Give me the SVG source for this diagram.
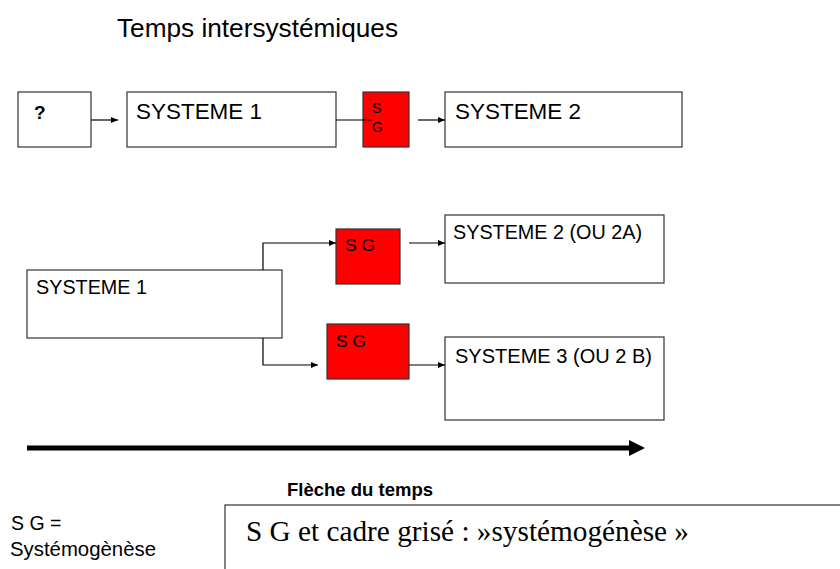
<svg xmlns="http://www.w3.org/2000/svg" width="840" height="569" viewBox="0 0 840 569">
<defs>
<style>
.box{fill:#fff;stroke:#333;stroke-width:1.2}
.sg{fill:#ff0000;stroke:#333;stroke-width:1.2}
.t{font-family:"Liberation Sans",Arial,sans-serif;fill:#000}
.c{fill:none;stroke:#000;stroke-width:1.2}
</style>
<marker id="ah" viewBox="0 0 10 10" refX="10" refY="5" markerWidth="7" markerHeight="6" markerUnits="userSpaceOnUse" orient="auto" preserveAspectRatio="none">
<path d="M0,0 L10,5 L0,10 Z" fill="#000"/>
</marker>
</defs>
<rect width="840" height="569" fill="#fff"/>
<text class="t" x="117" y="37" font-size="26" textLength="281" lengthAdjust="spacingAndGlyphs">Temps intersystémiques</text>

<g id="n-unknown"><rect class="box" x="18" y="92" width="73" height="55"/><text class="t" x="34" y="119" font-size="19" font-weight="bold">?</text></g>
<g id="n-sys1-top"><rect class="box" x="127" y="92" width="209" height="55"/><text class="t" x="136" y="119" font-size="22.5" textLength="126" lengthAdjust="spacingAndGlyphs">SYSTEME 1</text></g>
<g id="n-sg-top"><rect class="sg" x="363" y="92" width="46" height="55"/><text class="t" x="372" y="113" font-size="14">S</text><text class="t" x="372" y="132" font-size="14">G</text></g>
<g id="n-sys2-top"><rect class="box" x="445" y="92" width="237" height="55"/><text class="t" x="455" y="119" font-size="22.5" textLength="126" lengthAdjust="spacingAndGlyphs">SYSTEME 2</text></g>

<g id="n-sys1-mid"><rect class="box" x="27" y="270" width="255" height="68"/><text class="t" x="36" y="294" font-size="20" textLength="111" lengthAdjust="spacingAndGlyphs">SYSTEME 1</text></g>
<g id="n-sg-a"><rect class="sg" x="336" y="229" width="64" height="55"/><text class="t" x="345" y="251" font-size="17" textLength="30" lengthAdjust="spacingAndGlyphs">S G</text></g>
<g id="n-sys2a"><rect class="box" x="445" y="215" width="219" height="68"/><text class="t" x="453" y="239" font-size="20" textLength="189" lengthAdjust="spacingAndGlyphs">SYSTEME 2 (OU 2A)</text></g>
<g id="n-sg-b"><rect class="sg" x="327" y="324" width="82" height="55"/><text class="t" x="336" y="347" font-size="17" textLength="30" lengthAdjust="spacingAndGlyphs">S G</text></g>
<g id="n-sys3"><rect class="box" x="445" y="337" width="219" height="83"/><text class="t" x="455" y="363" font-size="20" textLength="197" lengthAdjust="spacingAndGlyphs">SYSTEME 3 (OU 2 B)</text></g>

<g id="connectors">
<line class="c" x1="91" y1="120" x2="118" y2="120" marker-end="url(#ah)"/>
<line class="c" x1="336" y1="120" x2="372" y2="120"/>
<line class="c" x1="418" y1="120" x2="445" y2="120" marker-end="url(#ah)"/>
<polyline class="c" points="263,270 263,243 336,243" marker-end="url(#ah)"/>
<line class="c" x1="409" y1="243" x2="445" y2="243" marker-end="url(#ah)"/>
<polyline class="c" points="263,338 263,365 318,365" marker-end="url(#ah)"/>
<line class="c" x1="409" y1="365" x2="445" y2="365" marker-end="url(#ah)"/>
</g>

<g id="time-arrow">
<line x1="27" y1="448" x2="630" y2="448" stroke="#000" stroke-width="5"/>
<polygon points="629,440 645,448 629,456" fill="#000"/>
</g>
<text class="t" x="287" y="496" font-size="18.5" font-weight="bold" textLength="146" lengthAdjust="spacingAndGlyphs">Flèche du temps</text>

<text class="t" x="11" y="530" font-size="19.5">S G =</text>
<text class="t" x="10" y="556" font-size="19.5" textLength="146" lengthAdjust="spacingAndGlyphs">Systémogènèse</text>

<g id="n-legend"><rect class="box" x="225" y="505" width="630" height="80" stroke-width="1.5"/>
<text x="246" y="541" font-family="'Liberation Serif','Times New Roman',serif" font-size="28.5" textLength="443" lengthAdjust="spacingAndGlyphs">S G et cadre grisé : »systémogénèse »</text></g>
</svg>
